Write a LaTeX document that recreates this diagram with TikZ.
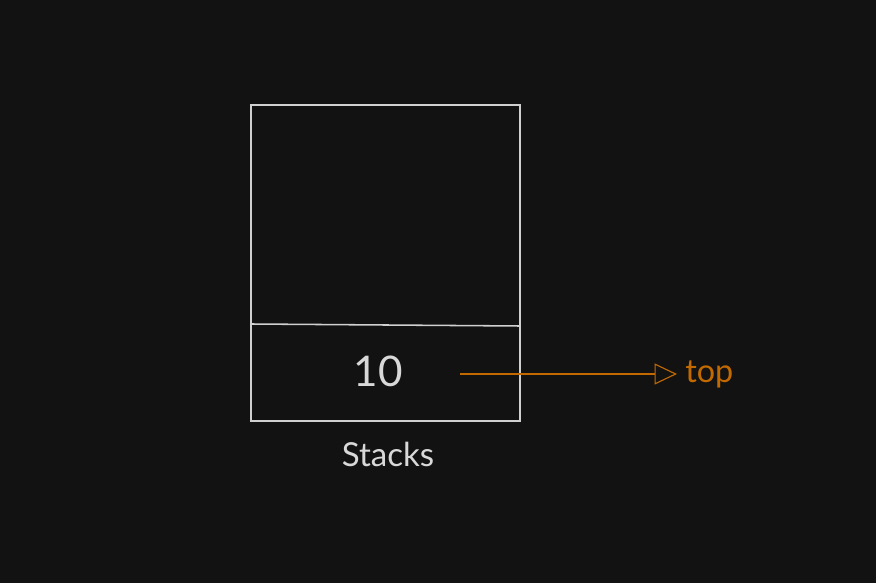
\documentclass[tikz,border=0pt]{standalone}
\usepackage{fontspec}
\setmainfont{Lato}
\usepackage{xcolor}
\usetikzlibrary{arrows.meta,positioning}
\definecolor{bgdark}{HTML}{121212}
\definecolor{linegrey}{HTML}{D0D0D0}
\definecolor{textgrey}{HTML}{D8D8D8}
\definecolor{toporange}{HTML}{C26A00}

\begin{document}
\begin{tikzpicture}[
  x=0.025cm, y=-0.025cm,
  cell/.style={draw=linegrey, line width=1.1pt},
  label/.style={text=textgrey, inner sep=0pt},
  pointer/.style={draw=toporange, line width=0.8pt, -{Triangle[open, length=16pt, width=15pt]}}
]
\fill[bgdark] (0,0) rectangle (876,583);
\useasboundingbox (0,0) rectangle (876,583);
% stack frame
\draw[cell] (251,105) rectangle (520,421);
\coordinate (divl) at (251,324);
\coordinate (divr) at (520,326);
\draw[cell] (divl) -- (divr);
\node[label, font=\fontsize{30}{36}\selectfont] (val) at (378,371) {10};
\node[label, font=\fontsize{23.5}{28}\selectfont] (name) at (388,454) {Stacks};
% top pointer
\coordinate (ptrstart) at (460,374);
\coordinate (ptrend) at (677,374);
\draw[pointer] (ptrstart) -- (ptrend);
\node[text=toporange, font=\fontsize{23}{27}\selectfont, anchor=west, inner sep=0pt] (top) at (685,374) {top};
\end{tikzpicture}
\end{document}
